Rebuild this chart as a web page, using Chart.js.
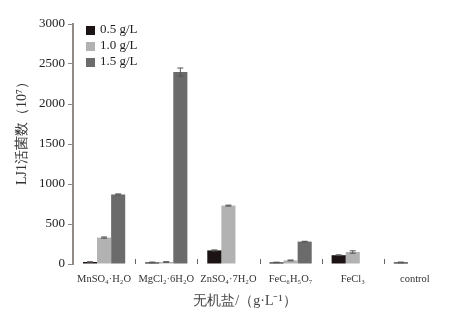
<!DOCTYPE html>
<html>
<head>
<meta charset="utf-8">
<script src="https://cdn.jsdelivr.net/npm/chart.js@4.4.0/dist/chart.umd.min.js"></script>
<style>
  html, body { margin: 0; padding: 0; background: #fff; }
</style>
</head>
<body>
<canvas id="myBarChart" width="455" height="322"></canvas>
<script>
const salts = ['MnSO₄·H₂O', 'MgCl₂·6H₂O', 'ZnSO₄·7H₂O', 'FeC₆H₅O₇', 'FeCl₃', 'control'];
const seriesNames = ['0.5 g/L', '1.0 g/L', '1.5 g/L'];
const low = [25, 20, 170, 20, 110, 20];
const mid = [330, 25, 730, 45, 150, 0];
const high = [870, 2400, 0, 280, 0, 0];
const lowErr = [3, 4, 6, 3, 5, 4];
const midErr = [8, 4, 6, 5, 15, 0];
const highErr = [6, 50, 0, 4, 0, 0];
const yTicks = [0, 500, 1000, 1500, 2000, 2500, 3000];

const colors = ['#1c1414', '#b2b2b2', '#6b6b6b'];
const serif = '"Liberation Serif", "Times New Roman", serif';

const errorBars = {
  id: 'errorBars',
  afterDatasetsDraw(chart) {
    const ctx = chart.ctx;
    const y = chart.scales.y;
    ctx.save();
    ctx.strokeStyle = '#555';
    ctx.lineWidth = 1;
    chart.data.datasets.forEach((ds, i) => {
      const meta = chart.getDatasetMeta(i);
      meta.data.forEach((bar, j) => {
        const v = ds.data[j], e = ds.errors[j];
        if (!v || !e) return;
        const top = y.getPixelForValue(v + e);
        const bot = y.getPixelForValue(v - e);
        ctx.beginPath();
        ctx.moveTo(bar.x, top); ctx.lineTo(bar.x, bot);
        ctx.moveTo(bar.x - 3, top); ctx.lineTo(bar.x + 3, top);
        ctx.moveTo(bar.x - 3, bot); ctx.lineTo(bar.x + 3, bot);
        ctx.stroke();
      });
    });
    ctx.restore();
  }
};

const decorations = {
  id: 'decorations',
  afterDraw(chart) {
    const ctx = chart.ctx;
    const area = chart.chartArea;
    const x = chart.scales.x;
    ctx.save();
    // category separators
    ctx.strokeStyle = '#666';
    ctx.lineWidth = 1;
    const half = (x.getPixelForValue(1) - x.getPixelForValue(0)) / 2;
    for (let i = 0; i < salts.length - 1; i++) {
      const px = Math.round(x.getPixelForValue(i) + half) + 0.5;
      ctx.beginPath();
      ctx.moveTo(px, area.bottom - 5);
      ctx.lineTo(px, area.bottom);
      ctx.stroke();
    }
    // legend
    ctx.font = '13px ' + serif;
    ctx.textBaseline = 'middle';
    seriesNames.forEach((name, i) => {
      const ly = area.top + 6 + i * 16;
      ctx.fillStyle = colors[i];
      ctx.fillRect(area.left + 13, ly - 4, 9, 9);
      ctx.fillStyle = '#222';
      ctx.fillText(name, area.left + 27, ly);
    });
    // y title
    ctx.save();
    ctx.translate(22, area.top + 106);
    ctx.rotate(-Math.PI / 2);
    ctx.textAlign = 'center';
    ctx.fillStyle = '#333';
    ctx.font = '14px ' + serif;
    ctx.fillText('LJ1活菌数（10⁷）', 0, 0);
    ctx.restore();
    // x title
    ctx.textAlign = 'center';
    ctx.fillStyle = '#444';
    ctx.font = '14px ' + serif;
    ctx.fillText('无机盐/（g·L⁻¹）', 245, area.bottom + 37);
    ctx.restore();
  }
};

const data = {
  labels: salts,
  datasets: [
    { label: seriesNames[0], data: low, errors: lowErr, backgroundColor: colors[0] },
    { label: seriesNames[1], data: mid, errors: midErr, backgroundColor: colors[1] },
    { label: seriesNames[2], data: high, errors: highErr, backgroundColor: colors[2] }
  ]
};

const config = {
  type: 'bar',
  data: data,
  options: {
    responsive: false,
    animation: false,
    layout: { padding: { left: 0, top: 24, right: 9, bottom: 0 } },
    datasets: { bar: { barPercentage: 1, categoryPercentage: 0.68 } },
    plugins: {
      legend: { display: false },
      tooltip: { enabled: false }
    },
    scales: {
      x: {
        grid: { display: false },
        border: { display: false },
        ticks: {
          color: '#333',
          font: { family: serif, size: 10.5 },
          maxRotation: 0,
          autoSkip: false,
          padding: 1
        },
        afterFit: (s) => { s.height = 58; }
      },
      y: {
        min: 0,
        max: 3000,
        afterBuildTicks: (s) => { s.ticks = yTicks.map(v => ({ value: v })); },
        grid: { display: true, drawOnChartArea: false, tickLength: 5, color: '#8f8a85' },
        border: { display: true, color: '#8f8a85', width: 2 },
        ticks: {
          color: '#222',
          font: { family: serif, size: 13 },
          padding: 3,
          callback: (v) => String(v)
        },
        afterFit: (s) => { s.width = 73; }
      }
    }
  },
  plugins: [errorBars, decorations]
};

new Chart(document.getElementById('myBarChart'), config);
</script>
</body>
</html>
